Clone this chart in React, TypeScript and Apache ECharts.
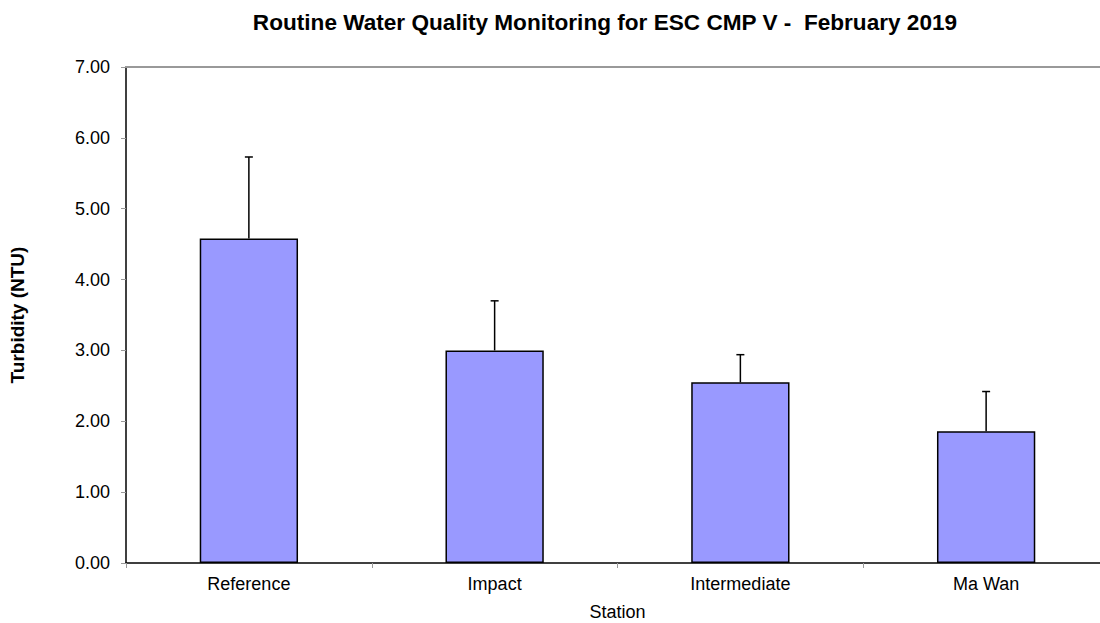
import React, { useEffect, useRef } from "react";
import * as echarts from "echarts";

const stations = ["Reference", "Impact", "Intermediate", "Ma Wan"];
const turbidity = [4.58, 3.0, 2.55, 1.86];
const errorTop = [5.73, 3.7, 2.94, 2.42];
const yTicks = [0, 1, 2, 3, 4, 5, 6, 7];

export default function App() {
  const ref = useRef<HTMLDivElement>(null);
  useEffect(() => {
    if (!ref.current) return;
    const chart = echarts.init(ref.current, null, { renderer: "svg" });
    const font = "'Liberation Sans', Arial, sans-serif";
    chart.setOption({
      animation: false,
      backgroundColor: "#ffffff",
      textStyle: { fontFamily: font },
      title: {
        text: "Routine Water Quality Monitoring for ESC CMP V -  February 2019",
        left: 600,
        textAlign: "center",
        top: 6,
        textStyle: { fontFamily: font, fontSize: 22.6, fontWeight: "bold", color: "#000" },
      },
      grid: { left: 126, top: 67, width: 983, height: 496, outerBoundsMode: "none", containLabel: false },
      xAxis: [
        {
          type: "category",
          data: stations,
          name: "Station",
          nameLocation: "middle",
          nameGap: 40,
          nameTextStyle: { fontFamily: font, fontSize: 18, color: "#000" },
          axisLine: { lineStyle: { color: "#000", width: 1.5 } },
          axisTick: { show: true, length: 5, lineStyle: { color: "#999" } },
          axisLabel: { fontFamily: font, fontSize: 18, color: "#000", margin: 12 },
        },
        {
          type: "category",
          data: stations,
          position: "top",
          axisLine: { onZero: false, lineStyle: { color: "#999", width: 2 } },
          axisTick: { show: false },
          axisLabel: { show: false },
        },
      ],
      yAxis: {
        type: "value",
        min: 0,
        max: 7,
        interval: 1,
        name: "Turbidity (NTU)",
        nameLocation: "middle",
        nameGap: 99,
        nameRotate: 90,
        nameTextStyle: { fontFamily: font, fontSize: 19, fontWeight: "bold", color: "#000" },
        axisLine: { show: true, lineStyle: { color: "#000", width: 1.5 } },
        axisTick: { show: true, length: 5, lineStyle: { color: "#999" } },
        splitLine: { show: false },
        axisLabel: {
          fontFamily: font,
          fontSize: 18,
          color: "#000",
          margin: 16,
          formatter: (v: number) => (yTicks.includes(v) ? v.toFixed(2) : ""),
        },
      },
      series: [
        {
          type: "bar",
          data: turbidity,
          barWidth: "40%",
          itemStyle: { color: "#9999ff", borderColor: "#000", borderWidth: 1.5 },
        },
        {
          type: "custom",
          data: stations.map((_, i) => [i, turbidity[i], errorTop[i]]),
          z: 5,
          renderItem: (params: any, api: any) => {
            const base = api.coord([api.value(0), api.value(1)]);
            const top = api.coord([api.value(0), api.value(2)]);
            const style = { stroke: "#000", lineWidth: 1.5 };
            return {
              type: "group",
              children: [
                { type: "line", shape: { x1: base[0], y1: base[1], x2: top[0], y2: top[1] }, style },
                { type: "line", shape: { x1: top[0] - 4, y1: top[1], x2: top[0] + 4, y2: top[1] }, style },
              ],
            };
          },
        },
      ],
    });
    return () => chart.dispose();
  }, []);
  return (
    <div
      ref={ref}
      style={{ position: "fixed", left: 0, top: 0, width: 1100, height: 623, background: "#fff" }}
    />
  );
}
